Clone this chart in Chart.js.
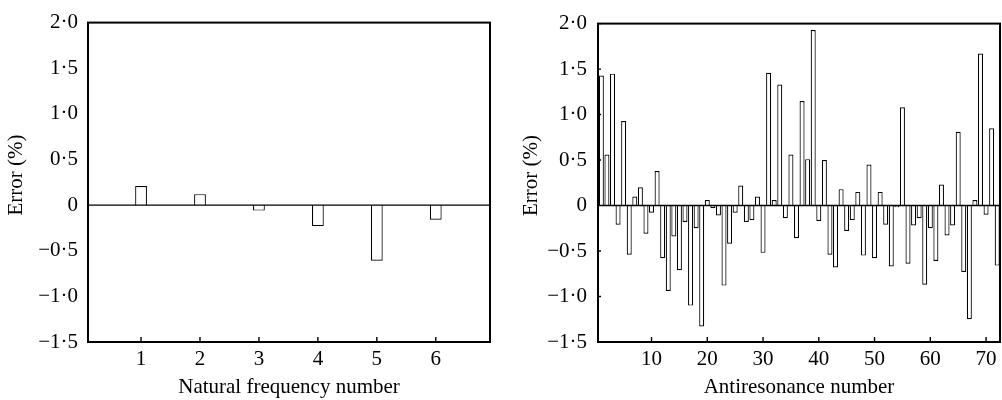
<!DOCTYPE html>
<html>
<head>
<meta charset="utf-8">
<script src="https://cdn.jsdelivr.net/npm/chart.js@4.4.1/dist/chart.umd.min.js"></script>
<style>
    html, body { margin: 0; padding: 0; background: #fff; }
    #painel { position: relative; width: 1002px; height: 400px; }
    canvas { position: absolute; top: 0; }
    #grafNatural { left: 0; }
    #grafAnti { left: 500px; }
</style>
</head>
<body>
<div id="painel">
    <canvas id="grafNatural" width="500" height="400"></canvas>
    <canvas id="grafAnti" width="502" height="400"></canvas>
</div>
<script>
// frequencias naturais
const naturalNums = [1, 2, 3, 4, 5, 6];
const naturalErro = [0.21, 0.12, -0.06, -0.23, -0.61, -0.16];
const naturalTicks = [1, 2, 3, 4, 5, 6];

// antirressonancias
const antiNums = [1, 2, 3, 4, 5, 6, 7, 8, 9, 10, 11, 12, 13, 14, 15, 16, 17, 18,
    19, 20, 21, 22, 23, 24, 25, 26, 27, 28, 29, 30, 31, 32, 33, 34, 35, 36,
    37, 38, 39, 40, 41, 42, 43, 44, 45, 46, 47, 48, 49, 50, 51, 52, 53, 54,
    55, 56, 57, 58, 59, 60, 61, 62, 63, 64, 65, 66, 67, 68, 69, 70, 71, 72];
const antiErro = [1.43, 0.56, 1.45, -0.21, 0.93, -0.54, 0.10, 0.20, -0.31, -0.08,
    0.38, -0.58, -0.94, -0.34, -0.71, -0.18, -1.10, -0.25, -1.33, 0.06,
    -0.03, -0.11, -0.88, -0.42, -0.08, 0.22, -0.18, -0.16, 0.10, -0.52,
    1.46, 0.06, 1.33, -0.14, 0.56, -0.36, 1.15, 0.51, 1.93, -0.17,
    0.50, -0.54, -0.68, 0.18, -0.28, -0.16, 0.15, -0.55, 0.45, -0.58,
    0.15, -0.21, -0.67, -0.02, 1.08, -0.64, -0.22, -0.14, -0.87, -0.25,
    -0.61, 0.23, -0.33, -0.22, 0.81, -0.73, -1.25, 0.06, 1.67, -0.10,
    0.85, -0.66];
const antiTicks = [10, 20, 30, 40, 50, 60, 70];

// eixo do erro
const erroTicks = [-1.5, -1, -0.5, 0, 0.5, 1, 1.5, 2];
const erroTickTexto = ['\u22121\u00b75', '\u22121\u00b70', '\u22120\u00b75', '0',
    '0\u00b75', '1\u00b70', '1\u00b75', '2\u00b70'];

Chart.defaults.font.family = '"Liberation Serif", "Times New Roman", serif';
Chart.defaults.font.size = 21;
Chart.defaults.color = '#000';

// caixa, linha do zero, ticks para dentro e titulo do eixo y
const moldura = {
    id: 'moldura',
    afterDatasetsDraw(chart, args, opts) {
        const { ctx, chartArea: a, scales: { x, y } } = chart;
        ctx.save();
        ctx.strokeStyle = '#000';
        ctx.lineWidth = 1.4;
        const y0 = y.getPixelForValue(0);
        ctx.beginPath();
        ctx.moveTo(a.left, y0);
        ctx.lineTo(a.right, y0);
        x.ticks.forEach(t => {
            const px = x.getPixelForValue(t.value);
            ctx.moveTo(px, a.bottom);
            ctx.lineTo(px, a.bottom - opts.tickX);
        });
        if (opts.tickY) {
            y.ticks.forEach(t => {
                const py = y.getPixelForValue(t.value);
                ctx.moveTo(a.left, py);
                ctx.lineTo(a.left + opts.tickY, py);
            });
        }
        ctx.stroke();
        ctx.lineWidth = 2;
        ctx.strokeRect(a.left, a.top, a.right - a.left, a.bottom - a.top);

        // titulo do eixo y um pouco acima do centro
        ctx.fillStyle = '#000';
        ctx.font = '21px ' + Chart.defaults.font.family;
        ctx.textAlign = 'center';
        ctx.textBaseline = 'middle';
        ctx.translate(opts.tituloX, y.getPixelForValue(0.33));
        ctx.rotate(-Math.PI / 2);
        ctx.fillText('Error (%)', 0, 0);
        ctx.restore();
    }
};

function criarGrafico(id, nums, erros, xTicks, xTitulo, cfg) {
    const ctx = document.getElementById(id).getContext('2d');
    return new Chart(ctx, {
        type: 'bar',
        data: {
            datasets: [{
                data: nums.map((n, i) => ({ x: n, y: erros[i] })),
                backgroundColor: '#fff',
                borderColor: '#000',
                borderWidth: 1.2,
                barPercentage: cfg.barPct,
                categoryPercentage: 1
            }]
        },
        options: {
            responsive: false,
            animation: false,
            layout: { padding: { top: 18, right: cfg.padRight, left: 0, bottom: 0 } },
            plugins: {
                legend: { display: false },
                tooltip: { enabled: false },
                moldura: { tickX: 5, tickY: cfg.tickY, tituloX: cfg.tituloX }
            },
            scales: {
                x: {
                    type: 'linear',
                    min: cfg.xMin,
                    max: cfg.xMax,
                    offset: false,
                    grid: { display: false, drawTicks: false, offset: false },
                    border: { display: false },
                    afterBuildTicks: s => { s.ticks = xTicks.map(v => ({ value: v })); },
                    afterFit: s => { s.height = 58; },
                    ticks: { padding: 5, maxRotation: 0, callback: v => String(v) },
                    title: { display: true, text: xTitulo, padding: { top: 0, bottom: 0 } }
                },
                y: {
                    min: -1.5,
                    max: 2,
                    grid: { display: false, drawTicks: false },
                    border: { display: false },
                    afterBuildTicks: s => { s.ticks = erroTicks.map(v => ({ value: v })); },
                    afterFit: s => { s.width = cfg.yLargura; },
                    ticks: { padding: cfg.yPad, callback: v => erroTickTexto[erroTicks.indexOf(v)] }
                }
            }
        },
        plugins: [moldura]
    });
}

criarGrafico('grafNatural', naturalNums, naturalErro, naturalTicks, 'Natural frequency number',
    { xMin: 0.1, xMax: 6.92, barPct: 0.2, padRight: 10, yLargura: 88, yPad: 10, tituloX: 16, tickY: 0 });

criarGrafico('grafAnti', antiNums, antiErro, antiTicks, 'Antiresonance number',
    { xMin: 0.4, xMax: 72.5, barPct: 0.9, padRight: 2, yLargura: 98, yPad: 11, tituloX: 31, tickY: 3 });
</script>
</body>
</html>
